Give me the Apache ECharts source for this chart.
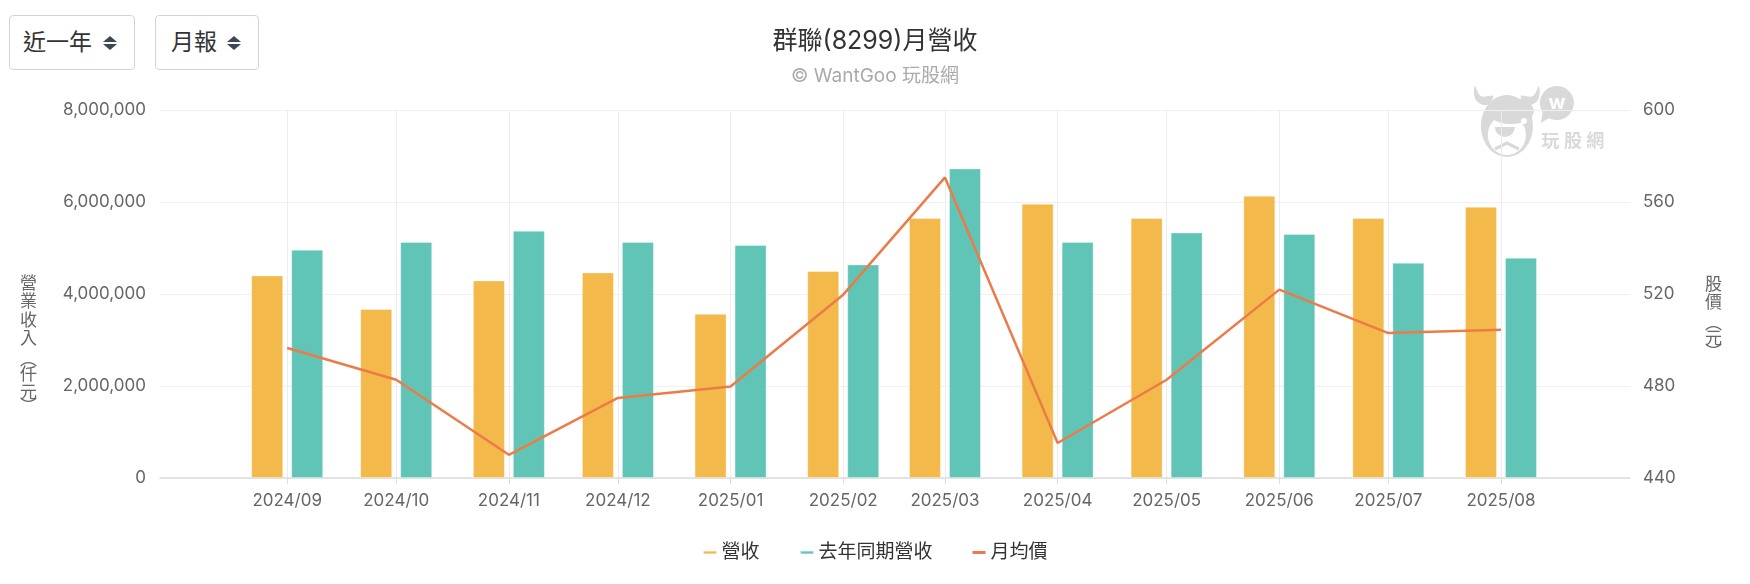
<!DOCTYPE html>
<html>
<head>
<meta charset="utf-8">
<script src="https://cdn.jsdelivr.net/npm/echarts@6/dist/echarts.min.js"></script>
<style>
  html, body { margin: 0; padding: 0; background: #fff; }
  #wrap { position: relative; width: 1750px; height: 584px; }
  #chart { width: 1750px; height: 584px; }
  .sel {
    position: absolute; top: 15px; height: 55px; box-sizing: border-box;
    border: 1px solid #d4d4d4; border-radius: 4px; background: #fff;
    font-family: Inter, "Noto Sans CJK TC", sans-serif; font-size: 23px; color: #333;
    line-height: 53px; z-index: 2;
  }
  .up, .down { position: absolute; width: 0; height: 0; border-left: 7px solid transparent; border-right: 7px solid transparent; }
  .up { top: 20px; border-bottom: 6px solid #3c4858; }
  .down { top: 28px; border-top: 6px solid #3c4858; }
</style>
</head>
<body>
<div id="wrap">
  <div class="sel" style="left:9px;width:126px;padding-left:13px;">近一年<span class="up" style="left:93px"></span><span class="down" style="left:93px"></span></div>
  <div class="sel" style="left:155px;width:104px;padding-left:15px;">月報<span class="up" style="left:71px"></span><span class="down" style="left:71px"></span></div>
  <div id="chart"></div>
</div>
<script>
// 月份
const months = ['2024/09', '2024/10', '2024/11', '2024/12', '2025/01', '2025/02',
  '2025/03', '2025/04', '2025/05', '2025/06', '2025/07', '2025/08'];
// 營收 (仟元)
const revenue = [4404000, 3674000, 4296000, 4470000, 3572000, 4500000,
  5652000, 5963000, 5652000, 6137000, 5652000, 5898000];
// 去年同期營收 (仟元)
const revenueLastYear = [4963000, 5130000, 5376000, 5130000, 5065000, 4643000,
  6730000, 5130000, 5339000, 5304000, 4680000, 4789000];
// 月均價 (元)
const avgPrice = [496.5, 482.7, 450.1, 474.8, 479.8, 519.7,
  570.7, 455.2, 482.7, 521.9, 503.0, 504.5];

const FONT = 'Inter, "Noto Sans CJK TC", sans-serif';
const WM = '#d9d9d9'; // 浮水印顏色

// 月份字串 -> 當月一日的時間戳
function toTime(m) {
  const p = m.split('/').map(Number);
  return new Date(p[0], p[1] - 1, 1).getTime();
}
function pad(n) { return n < 10 ? '0' + n : '' + n; }
function withComma(v) { return String(v).replace(/\B(?=(\d{3})+(?!\d))/g, ','); }

const tickTimes = months.map(toTime);

function nameRich() {
  return {
    c: { fontSize: 17, lineHeight: 18.5, fill: '#666', fontFamily: FONT },
    p: { fontSize: 17, lineHeight: 10, fill: '#666', fontFamily: FONT },
    g: { fontSize: 4, lineHeight: 7 }
  };
}

const chart = echarts.init(document.getElementById('chart'));
chart.setOption({
  animation: false,
  textStyle: { fontFamily: FONT },
  color: ['#f3b94a', '#60c5b6', '#ec7b49'],
  title: {
    left: 'center', top: 29, padding: 0, itemGap: 13,
    text: '群聯(8299)月營收',
    textStyle: { fontSize: 25, fontWeight: 'normal', color: '#333', fontFamily: FONT },
    subtext: '© WantGoo 玩股網',
    subtextStyle: { fontSize: 19, color: '#aaa', fontFamily: FONT }
  },
  legend: {
    bottom: 17, left: 'center', itemGap: 40, itemWidth: 13, itemHeight: 3, icon: 'rect',
    textStyle: { fontSize: 19, color: '#333', fontFamily: FONT },
    data: ['營收', '去年同期營收', '月均價']
  },
  grid: { left: 160, right: 120, top: 110, bottom: 106 },
  xAxis: {
    // 以時間戳為數值軸,月份天數不同所以間距不等
    type: 'value',
    min: new Date(2024, 6, 28).getTime(),
    max: new Date(2025, 8, 5, 12).getTime(),
    axisLine: { lineStyle: { color: '#dcdcdc', width: 1.5 } },
    axisTick: { show: true, length: 6, lineStyle: { color: '#dcdcdc' }, customValues: tickTimes },
    axisLabel: {
      customValues: tickTimes, color: '#666', fontSize: 17, margin: 14, fontFamily: FONT,
      formatter: function (v) {
        const d = new Date(v);
        return d.getFullYear() + '/' + pad(d.getMonth() + 1);
      }
    },
    splitLine: { show: true, lineStyle: { color: '#ededed' } }
  },
  yAxis: [{
    type: 'value', min: 0, max: 8000000, interval: 2000000, position: 'left',
    axisLine: { show: false }, axisTick: { show: false },
    axisLabel: { color: '#666', fontSize: 17, margin: 14, fontFamily: FONT, formatter: withComma },
    splitLine: { lineStyle: { color: '#f0f0f0' } }
  }, {
    type: 'value', min: 440, max: 600, interval: 40, position: 'right',
    axisLine: { show: false }, axisTick: { show: false },
    axisLabel: { color: '#666', fontSize: 17, margin: 13, fontFamily: FONT },
    splitLine: { show: false }
  }],
  series: [{
    name: '營收', type: 'bar', barWidth: 32, barGap: '25%',
    itemStyle: { borderColor: 'rgba(255,255,255,0.35)', borderWidth: 1 },
    data: months.map((m, i) => [toTime(m), revenue[i]])
  }, {
    name: '去年同期營收', type: 'bar', barWidth: 32, barGap: '25%',
    itemStyle: { borderColor: 'rgba(255,255,255,0.35)', borderWidth: 1 },
    data: months.map((m, i) => [toTime(m), revenueLastYear[i]])
  }, {
    name: '月均價', type: 'line', yAxisIndex: 1, showSymbol: false, symbol: 'none', z: 5,
    lineStyle: { width: 2.5 },
    data: months.map((m, i) => [toTime(m), avgPrice[i]])
  }],
  graphic: [{
    // 左軸名稱
    type: 'text', left: 20, top: 275,
    style: {
      text: '{c|營}\n{c|業}\n{c|收}\n{c|入}\n{g| }\n{p|︵}\n{c|仟}\n{c|元}\n{p|︶}',
      fill: '#666', align: 'center', rich: nameRich()
    }
  }, {
    // 右軸名稱
    type: 'text', left: 1705, top: 276,
    style: {
      text: '{c|股}\n{c|價}\n{g| }\n{p|︵}\n{c|元}\n{p|︶}',
      fill: '#666', align: 'center', rich: nameRich()
    }
  }, {
    // 浮水印 (玩股網牛頭)
    type: 'group', left: 1474, top: 86, silent: true, z: 0,
    children: [
      { type: 'polygon', shape: { points: [[6, 3], [12, 13], [24, 13], [18, 22], [7, 17]], smooth: 0.4 }, style: { fill: WM } },
      { type: 'polygon', shape: { points: [[70, 3], [64, 13], [52, 13], [58, 22], [69, 17]], smooth: 0.4 }, style: { fill: WM } },
      { type: 'ellipse', shape: { cx: 38, cy: 43, rx: 26, ry: 31 }, style: { fill: WM } },
      { type: 'ellipse', shape: { cx: 38, cy: 52, rx: 19, ry: 20 }, style: { fill: '#fff' } },
      { type: 'ellipse', shape: { cx: 42, cy: 28, rx: 23, ry: 13 }, style: { fill: WM } },
      { type: 'sector', shape: { cx: 36, cy: 44, r0: 0, r: 10, startAngle: 0, endAngle: Math.PI }, style: { fill: WM } },
      { type: 'circle', shape: { cx: 55, cy: 38, r: 3 }, style: { fill: '#fff' } },
      { type: 'polyline', shape: { points: [[26, 66], [38, 60], [50, 66]] }, style: { stroke: WM, lineWidth: 3, fill: null } },
      { type: 'circle', shape: { cx: 88, cy: 20, r: 17 }, style: { fill: WM } },
      { type: 'polygon', shape: { points: [[74, 28], [72, 40], [82, 34]] }, style: { fill: WM } },
      { type: 'text', x: 88, y: 20, style: { text: 'w', fill: '#fff', font: 'bold 20px ' + FONT, align: 'center', verticalAlign: 'middle' } },
      { type: 'text', x: 104, y: 59, style: { text: '玩 股 網', fill: WM, font: 'bold 18px ' + FONT, align: 'center', verticalAlign: 'middle' } }
    ]
  }]
});
</script>
</body>
</html>
